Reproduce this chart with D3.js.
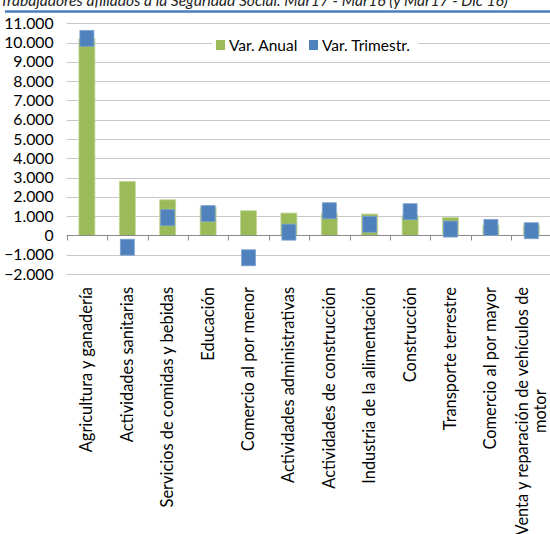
<!DOCTYPE html>
<html>
<head>
<meta charset="utf-8">
<script src="https://d3js.org/d3.v7.min.js"></script>
<style>
  body { margin: 0; background: #fff; }
  text { font-family: Lato, "Open Sans", sans-serif; fill: #000; }
</style>
</head>
<body>
<svg id="chart" width="550" height="534"></svg>
<script>
  // datos
  const sectores = [
    "Agricultura y ganadería",
    "Actividades sanitarias",
    "Servicios de comidas y bebidas",
    "Educación",
    "Comercio al por menor",
    "Actividades administrativas",
    "Actividades de construcción",
    "Industria de la alimentación",
    "Construcción",
    "Transporte terrestre",
    "Comercio al por mayor",
    "Venta y reparación de vehículos de|motor"
  ];
  const varAnual = [10200, 2800, 1850, 1470, 1280, 1160, 1160, 1110, 1040, 935, 540, 540];
  const varTrim = [10220, -610, 920, 1130, -1160, 170, 1280, 580, 1230, 330, 415, 245];
  const yTicks = [-2000, -1000, 0, 1000, 2000, 3000, 4000, 5000, 6000, 7000, 8000, 9000, 10000, 11000];

  const titulo = "Trabajadores afiliados a la Seguridad Social. Mar17 - Mar16 (y Mar17 - Dic 16)";

  const mLeft = 66.7, mRight = 551.5, mTop = 23.3, mBottom = 274;
  const svg = d3.select("#chart");

  const fmt = d => d3.format(",")(d).replace(/,/g, ".");

  const x = d3.scaleBand().domain(sectores).range([mLeft, mRight]);
  const y = d3.scaleLinear().domain([-2000, 11000]).range([mBottom, mTop]);

  // titulo (cortado arriba, como en el original)
  svg.append("text")
    .attr("x", 0).attr("y", 6)
    .style("font-style", "italic")
    .style("font-size", "15.6px")
    .style("fill", "#222")
    .text(titulo);
  svg.append("line")
    .attr("x1", 5).attr("x2", 550).attr("y1", 11.5).attr("y2", 11.5)
    .attr("stroke", "#4a7ebb").attr("stroke-width", 2.5);

  // rejilla
  svg.append("g").selectAll("line")
    .data(yTicks.filter(d => d != 0))
    .join("line")
    .attr("x1", mLeft).attr("x2", 550)
    .attr("y1", d => Math.round(y(d)) + 0.5).attr("y2", d => Math.round(y(d)) + 0.5)
    .attr("stroke", "#c8c8c8").attr("stroke-width", 1);

  // eje y
  const yAxis = svg.append("g")
    .attr("transform", "translate(" + (mLeft + 4) + ",0)")
    .call(d3.axisLeft(y).tickValues(yTicks).tickFormat(fmt).tickSize(0).tickPadding(17));
  yAxis.select(".domain").remove();
  yAxis.selectAll("text").style("font-size", "15.8px").style("font-family", "Lato");

  // barras anuales
  const bw = 16;
  svg.append("g").selectAll("rect")
    .data(varAnual)
    .join("rect")
    .attr("x", (d, i) => x(sectores[i]) + x.bandwidth() / 2 - bw / 2)
    .attr("width", bw)
    .attr("y", d => y(Math.max(0, d)))
    .attr("height", d => Math.abs(y(d) - y(0)))
    .attr("fill", "#9bbb59")
    .attr("stroke", "#c3d69b").attr("stroke-width", 0.8);

  // eje x en cero
  const y0 = Math.round(y(0)) + 0.5;
  svg.append("line")
    .attr("x1", mLeft).attr("x2", 550).attr("y1", y0).attr("y2", y0)
    .attr("stroke", "#8c8c8c");
  svg.append("g").selectAll("line")
    .data(d3.range(sectores.length + 1))
    .join("line")
    .attr("x1", i => Math.round(mLeft + i * x.step()) + 0.5)
    .attr("x2", i => Math.round(mLeft + i * x.step()) + 0.5)
    .attr("y1", y0).attr("y2", y0 + 5)
    .attr("stroke", "#8c8c8c");

  // marcadores trimestrales
  const mw = 14, mh = 16;
  svg.append("g").selectAll("rect")
    .data(varTrim)
    .join("rect")
    .attr("x", (d, i) => x(sectores[i]) + x.bandwidth() / 2 - mw / 2)
    .attr("y", d => y(d) - mh / 2)
    .attr("width", mw).attr("height", mh)
    .attr("fill", "#4f81bd")
    .attr("stroke", "#7ea3d0").attr("stroke-width", 0.8);

  // etiquetas de categoria rotadas
  const labY = 287;
  const lab = svg.append("g");
  sectores.forEach((s, i) => {
    const lines = s.split("|");
    const cx = x(s) + x.bandwidth() / 2;
    const g = lab.append("g").attr("transform", "translate(" + cx + "," + labY + ") rotate(-90)");
    const lh = 18;
    lines.forEach((t, j) => {
      g.append("text")
        .attr("x", 0)
        .attr("y", (j - (lines.length - 1) / 2) * lh + 5.5)
        .style("font-size", "16.4px")
        .text(t);
    });
    // bloque alineado arriba, lineas centradas entre si
    const widths = g.selectAll("text").nodes().map(n => n.getComputedTextLength());
    const wmax = d3.max(widths);
    g.selectAll("text").attr("x", (d, j) => -(wmax / 2) - widths[j] / 2);
  });

  // leyenda
  const leg = svg.append("g");
  leg.append("rect").attr("x", 212).attr("y", 36).attr("width", 206).attr("height", 18).attr("fill", "#fff");
  const items = [["Var. Anual", "#9bbb59", 216], ["Var. Trimestr.", "#4f81bd", 309]];
  items.forEach(it => {
    leg.append("rect").attr("x", it[2]).attr("y", 40).attr("width", 9).attr("height", 10).attr("fill", it[1]);
    leg.append("text").attr("x", it[2] + 13).attr("y", 50.5).style("font-size", "15.5px").text(it[0]);
  });
</script>
</body>
</html>
